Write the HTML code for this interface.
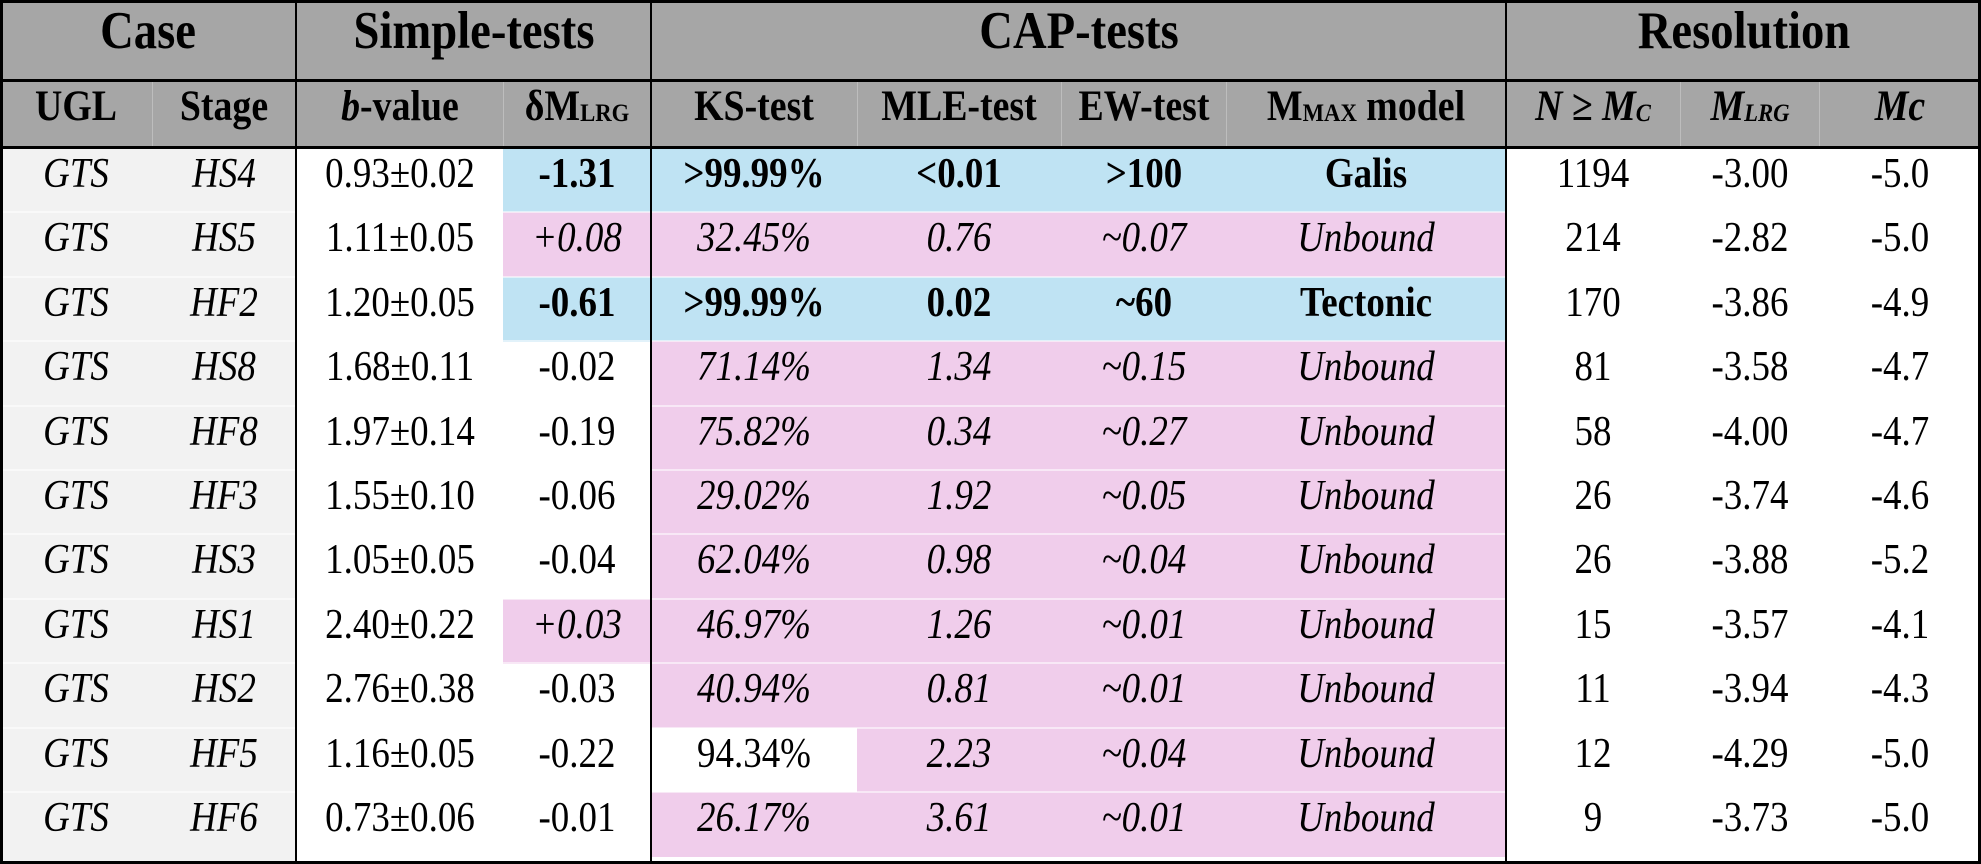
<!DOCTYPE html>
<html><head><meta charset="utf-8">
<style>
html,body{margin:0;padding:0;background:#fff;}
#t{position:relative;width:1981px;height:864px;overflow:hidden;font-family:"Liberation Serif",serif;color:#000;}
.c{position:absolute;box-sizing:border-box;}
.tx{position:absolute;white-space:nowrap;transform:translateX(-50%) scaleX(0.88);transform-origin:center;font-size:42px;line-height:48px;}
.hd{font-weight:bold;font-size:53px;line-height:60px;}
.h2{font-weight:bold;font-size:43px;line-height:48px;}
.ln{position:absolute;background:#000;}
.fl{position:absolute;background:rgba(255,255,255,0.55);}
sub{font-size:0.6em;vertical-align:baseline;position:relative;top:0.05em;}
</style></head>
<body>
<div id="t"></div>
<script>
const colEdges=[0,152,296,503,651,857,1061,1226,1506,1680,1819,1981];
const ugl=["GTS","GTS","GTS","GTS","GTS","GTS","GTS","GTS","GTS","GTS","GTS"];
const stage=["HS4","HS5","HF2","HS8","HF8","HF3","HS3","HS1","HS2","HF5","HF6"];
const bval=["0.93±0.02","1.11±0.05","1.20±0.05","1.68±0.11","1.97±0.14","1.55±0.10","1.05±0.05","2.40±0.22","2.76±0.38","1.16±0.05","0.73±0.06"];
const dm=["-1.31","+0.08","-0.61","-0.02","-0.19","-0.06","-0.04","+0.03","-0.03","-0.22","-0.01"];
const ks=[">99.99%","32.45%",">99.99%","71.14%","75.82%","29.02%","62.04%","46.97%","40.94%","94.34%","26.17%"];
const mle=["<0.01","0.76","0.02","1.34","0.34","1.92","0.98","1.26","0.81","2.23","3.61"];
const ew=[">100","~0.07","~60","~0.15","~0.27","~0.05","~0.04","~0.01","~0.01","~0.04","~0.01"];
const mmax=["Galis","Unbound","Tectonic","Unbound","Unbound","Unbound","Unbound","Unbound","Unbound","Unbound","Unbound"];
const nmc=["1194","214","170","81","58","26","26","15","11","12","9"];
const mlrg=["-3.00","-2.82","-3.86","-3.58","-4.00","-3.74","-3.88","-3.57","-3.94","-4.29","-3.73"];
const mc=["-5.0","-5.0","-4.9","-4.7","-4.7","-4.6","-5.2","-4.1","-4.3","-5.0","-5.0"];
const dmStyle=["b","p","b","w","w","w","w","p","w","w","w"];
const ksStyle=["b","p","b","p","p","p","p","p","p","w","p"];
const restStyle=["b","p","b","p","p","p","p","p","p","p","p"];

const T=document.getElementById('t');
const H1=80,H2=148,RH=64.4;
function box(x,y,w,h,bg,name){const d=document.createElement('div');d.className='c';d.style.cssText=`left:${x}px;top:${y}px;width:${w}px;height:${h}px;background:${bg}`;


T.appendChild(d);return d;}
function text(cx,cy,html,cls,name,extra){const d=document.createElement('div');d.className='tx '+(cls||'');d.innerHTML=html;d.style.left=cx+'px';d.style.top=cy+'px';if(extra)d.style.cssText+=extra;


T.appendChild(d);return d;}
function line(x,y,w,h,name,col){const d=document.createElement('div');d.className='ln';d.style.cssText=`left:${x}px;top:${y}px;width:${w}px;height:${h}px;`+(col?`background:${col}`:'');


T.appendChild(d);}
const COL={b:'#bfe3f3',p:'#f0cdeb',w:'#ffffff'};
box(0,0,1981,H2,'#a6a6a6','header-background');
box(0,H2,296,864-H2,'#f2f2f2','case-column-background');
for(let r=0;r<11;r++){
  const y=H2+r*RH;
  if(dmStyle[r]!=='w')box(colEdges[3],y,colEdges[4]-colEdges[3],RH+0.5,COL[dmStyle[r]],'dm-cell-bg');
  if(ksStyle[r]!=='w')box(colEdges[4],y,colEdges[5]-colEdges[4],RH+0.5,COL[ksStyle[r]],'ks-cell-bg');
  box(colEdges[5],y,colEdges[8]-colEdges[5],RH+0.5,COL[restStyle[r]],'cap-cell-bg');
}
for(let r=1;r<11;r++){const y=H2+r*RH;const d=document.createElement('div');d.className='fl';d.style.cssText=`left:0;top:${y-1}px;width:1981px;height:2px`;


T.appendChild(d);}
for(const x of [152,503,857,1061,1226,1680,1819]){line(x,H1,1,H2-H1,'header-subcolumn-line','#bdbdbd');}
line(0,0,1981,3,'top-border');
line(0,H1-1,1981,3,'header-row1-border');
line(0,H2-2,1981,3,'header-row2-border');
line(0,861,1981,3,'bottom-border');
line(0,0,3,864,'left-border');
line(1978,0,3,864,'right-border');
for(const x of [295,650,1505])line(x,0,2,864,'group-divider');
const mid=(a,b)=>(colEdges[a]+colEdges[b])/2;
text(mid(0,2),1,'Case','hd','case-header');
text(mid(2,4),1,'Simple-tests','hd','simple-tests-header');
text(mid(4,8),1,'CAP-tests','hd','cap-tests-header');
text(mid(8,11),1,'Resolution','hd','resolution-header');
const h2=['UGL','Stage','<i>b</i>-value','δM<sub>LRG</sub>','KS-test','MLE-test','EW-test','M<sub>MAX</sub> model','<i>N</i> ≥ <i>M<sub>C</sub></i>','<i>M<sub>LRG</sub></i>','<i>Mc</i>'];
const h2n=['ugl-header','stage-header','b-value-header','dm-lrg-header','ks-test-header','mle-test-header','ew-test-header','mmax-model-header','n-mc-header','mlrg-header','mc-header'];
for(let i=0;i<11;i++)text(mid(i,i+1),83,h2[i],'h2',h2n[i]);
const cols=[ugl,stage,bval,dm,ks,mle,ew,mmax,nmc,mlrg,mc];
const names=['ugl','stage','b-value','dm-lrg','ks-test','mle-test','ew-test','mmax-model','n-mc','mlrg','mc'];
for(let r=0;r<11;r++){
  const y=H2+r*RH+2;
  for(let c=0;c<11;c++){
    let st='';
    let s='w';
    if(c<2)st='font-style:italic';
    if(c===3)s=dmStyle[r];else if(c===4)s=ksStyle[r];else if(c>=5&&c<=7)s=restStyle[r];
    if(c>=3&&c<=7){if(s==='b')st='font-weight:bold';else if(s==='p')st='font-style:italic';}
    text(mid(c,c+1),y,cols[c][r],'',names[c]+'-cell',st);
  }
}
</script>
</body></html>
